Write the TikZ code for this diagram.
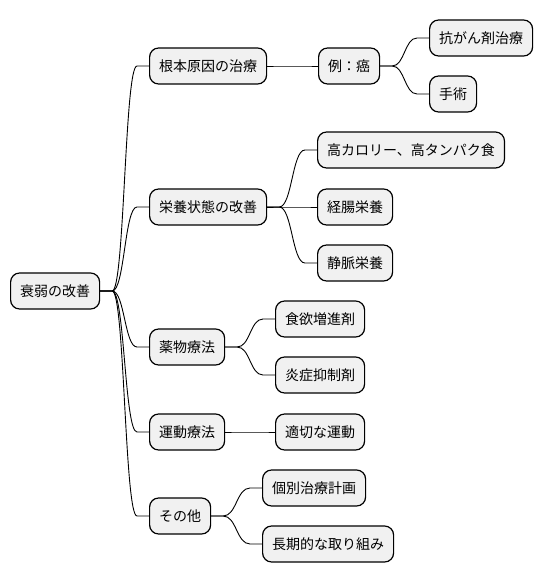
\documentclass[tikz,border=0pt]{standalone}
\usepackage{fontspec}
\newfontfamily\jpfont{Noto Sans CJK JP}
\usetikzlibrary{calc}
\definecolor{boksgra}{HTML}{F1F1F1}
\tikzset{
    %Define style for boxes
    emne/.style={
           rectangle,
           rounded corners=9pt,
           draw=black, line width=1.2pt,
           fill=boksgra,
           font=\jpfont\fontsize{14}{16}\selectfont,
           inner xsep=9.5pt,
           minimum height=36pt,
           anchor=west},
    % Define branch style
    gren/.style={
           line width=0.9pt,
           to path={let \p1=(\tikztostart), \p2=(\tikztotarget) in
             -- (\x1+12pt,\y1)
             .. controls ({(\x1+\x2)/2},\y1) and ({(\x1+\x2)/2},\y2) ..
             (\x2-12pt,\y2) -- (\tikztotarget)}}
}
\begin{document}
\begin{tikzpicture}[x=1pt,y=-1pt]
\useasboundingbox (0,0) rectangle (544,583);
 %nodes
\node[emne] (rot) at (10,291) {衰弱の改善};
\node[emne] (aarsak) at (149,66) {根本原因の治療};
\node[emne] (naring) at (149,207) {栄養状態の改善};
\node[emne] (medisin) at (149,347) {薬物療法};
\node[emne] (trening) at (149,432) {運動療法};
\node[emne] (annet) at (149,516) {その他};
\node[emne] (kreft) at (318,66) {例：癌};
\node[emne] (kjemo) at (429,38) {抗がん剤治療};
\node[emne] (kirurgi) at (429,94) {手術};
\node[emne] (kost) at (317,150) {高カロリー、高タンパク食};
\node[emne] (enteral) at (317,207) {経腸栄養};
\node[emne] (venos) at (317,263) {静脈栄養};
\node[emne] (appetitt) at (275,319) {食欲増進剤};
\node[emne] (betennelse) at (275,375) {炎症抑制剤};
\node[emne] (ovelse) at (275,432) {適切な運動};
\node[emne] (plan) at (262,488) {個別治療計画};
\node[emne] (langsiktig) at (262,544) {長期的な取り組み};
 %branches
\foreach \a/\b in {rot/aarsak, rot/naring, rot/medisin, rot/trening, rot/annet,
    aarsak/kreft, kreft/kjemo, kreft/kirurgi,
    naring/kost, naring/enteral, naring/venos,
    medisin/appetitt, medisin/betennelse, trening/ovelse,
    annet/plan, annet/langsiktig}
  \draw[gren] (\a.east) to (\b.west);
\end{tikzpicture}
\end{document}
